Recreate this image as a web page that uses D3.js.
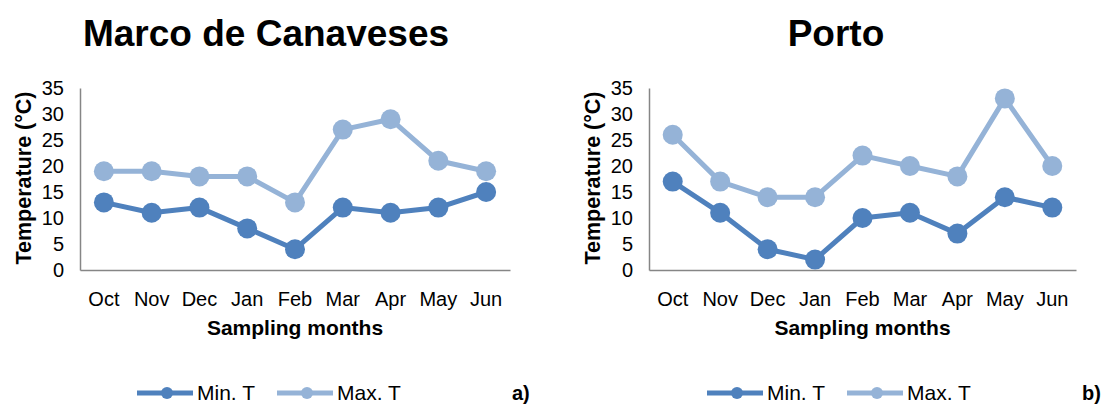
<!DOCTYPE html>
<html>
<head>
<meta charset="utf-8">
<script src="https://cdn.jsdelivr.net/npm/d3@7"></script>
<style>
  body { margin: 0; background: #fff; }
  svg { font-family: "Liberation Sans", Arial, sans-serif; }
</style>
</head>
<body>
<div id="chart"></div>
<script>
// sampling months (shared x categories)
var months = ["Oct", "Nov", "Dec", "Jan", "Feb", "Mar", "Apr", "May", "Jun"];
var yTicks = [0, 5, 10, 15, 20, 25, 30, 35];

// Marco de Canaveses
var marcoMin = [13, 11, 12, 8, 4, 12, 11, 12, 15];
var marcoMax = [19, 19, 18, 18, 13, 27, 29, 21, 19];

// Porto
var portoMin = [17, 11, 4, 2, 10, 11, 7, 14, 12];
var portoMax = [26, 17, 14, 14, 22, 20, 18, 33, 20];

var minColor = "#4f81bd",
    maxColor = "#95b3d7",
    axisColor = "#868686";

var svg = d3.select("#chart")
  .append("svg")
    .attr("width", 1104)
    .attr("height", 404);

var panels = [
  { title: "Marco de Canaveses", tag: "a)", min: marcoMin, max: marcoMax,
    left: 80, right: 510, titleX: 266, legendX: 137, tagX: 512 },
  { title: "Porto", tag: "b)", min: portoMin, max: portoMax,
    left: 649, right: 1076, titleX: 836, legendX: 707, tagX: 1082 }
];

var plotTop = 88, plotBottom = 270;

panels.forEach(function(p){
  var g = svg.append("g");

  var x = d3.scaleBand()
      .domain(months)
      .range([p.left, p.right]);

  var y = d3.scaleLinear()
      .domain([0, 35])
      .range([plotBottom, plotTop]);

  // title
  g.append("text")
    .attr("x", p.titleX)
    .attr("y", 46)
    .attr("text-anchor", "middle")
    .attr("font-size", "37px")
    .attr("font-weight", "bold")
    .text(p.title);

  // axes (no tick marks, grey domain lines)
  var yAxis = g.append("g")
    .attr("transform", "translate(" + p.left + ",0)")
    .call(d3.axisLeft(y).tickValues(yTicks).tickSize(0).tickPadding(16));

  var xAxis = g.append("g")
    .attr("transform", "translate(0," + plotBottom + ")")
    .call(d3.axisBottom(x).tickSize(0).tickPadding(22));

  [xAxis, yAxis].forEach(function(a){
    a.select(".domain").attr("stroke", axisColor).attr("stroke-width", 1.5);
    a.selectAll("text")
      .attr("font-size", "20px")
      .attr("fill", "#000")
      .attr("font-family", "Liberation Sans, Arial, sans-serif");
  });

  // axis labels
  g.append("text")
    .attr("x", (p.left + p.right) / 2)
    .attr("y", 335)
    .attr("text-anchor", "middle")
    .attr("font-size", "21px")
    .attr("font-weight", "bold")
    .text("Sampling months");

  g.append("text")
    .attr("transform", "translate(" + (p.left - 49) + "," + 178 + ") rotate(-90)")
    .attr("text-anchor", "middle")
    .attr("font-size", "21.5px")
    .attr("font-weight", "bold")
    .text("Temperature (°C)");

  var line = d3.line()
    .x(function(d, i){ return x(months[i]) + x.bandwidth() / 2; })
    .y(function(d){ return y(d); });

  [[p.min, minColor], [p.max, maxColor]].forEach(function(s){
    g.append("path")
      .attr("d", line(s[0]))
      .attr("fill", "none")
      .attr("stroke", s[1])
      .attr("stroke-width", 5)
      .attr("stroke-linejoin", "round");

    g.selectAll(null)
      .data(s[0])
      .enter()
      .append("circle")
        .attr("cx", function(d, i){ return x(months[i]) + x.bandwidth() / 2; })
        .attr("cy", function(d){ return y(d); })
        .attr("r", 10)
        .attr("fill", s[1]);
  });

  // legend
  var legend = [["Min. T", minColor, 0], ["Max. T", maxColor, 140]];
  legend.forEach(function(l){
    var lx = p.legendX + l[2];
    g.append("line")
      .attr("x1", lx).attr("x2", lx + 56)
      .attr("y1", 393).attr("y2", 393)
      .attr("stroke", l[1])
      .attr("stroke-width", 5);
    g.append("circle")
      .attr("cx", lx + 30).attr("cy", 393)
      .attr("r", 6)
      .attr("fill", l[1]);
    g.append("text")
      .attr("x", lx + 60)
      .attr("y", 400)
      .attr("font-size", "21px")
      .text(l[0]);
  });

  g.append("text")
    .attr("x", p.tagX)
    .attr("y", 400)
    .attr("font-size", "20px")
    .attr("font-weight", "bold")
    .text(p.tag);
});
</script>
</body>
</html>
